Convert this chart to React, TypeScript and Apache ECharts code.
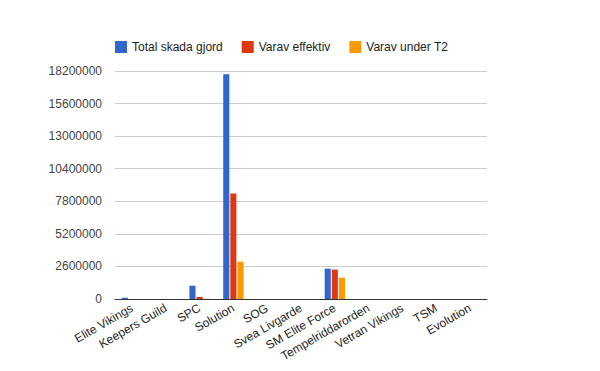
import React, { useEffect, useRef } from "react";
import * as echarts from "echarts";

const categories = [
  "Elite Vikings",
  "Keepers Guild",
  "SPC",
  "Solution",
  "SOG",
  "Svea Livgarde",
  "SM Elite Force",
  "Tempelriddarorden",
  "Vetran Vikings",
  "TSM",
  "Evolution",
];
const totalSkada = [100000, 0, 1060000, 17940000, 0, 0, 2420000, 0, 0, 0, 0];
const varavEffektiv = [0, 0, 170000, 8420000, 0, 0, 2350000, 0, 0, 0, 0];
const varavT2 = [0, 0, 20000, 2980000, 0, 0, 1700000, 0, 0, 0, 0];
const yTicks = { min: 0, max: 18200000, interval: 2600000 };

export default function App() {
  const ref = useRef<HTMLDivElement>(null);
  useEffect(() => {
    if (!ref.current) return;
    const chart = echarts.init(ref.current, null, { renderer: "svg" });
    const font = "'Liberation Sans', Arial, sans-serif";
    chart.setOption({
      animation: false,
      textStyle: { fontFamily: font },
      color: ["#3366cc", "#dc3912", "#ff9900"],
      legend: {
        left: 110,
        top: 36,
        itemWidth: 12,
        itemHeight: 12,
        itemGap: 19,
        icon: "rect",
        textStyle: { fontSize: 12, color: "#222", fontFamily: font },
        data: ["Total skada gjord", "Varav effektiv", "Varav under T2"],
      },
      grid: { left: 115, right: 113, top: 71, bottom: 72, containLabel: false },
      xAxis: {
        type: "category",
        data: categories,
        axisLine: { lineStyle: { color: "#333", width: 1 } },
        axisTick: { show: false },
        axisLabel: {
          rotate: 30,
          interval: 0,
          margin: 8,
          fontSize: 12,
          color: "#222",
          fontFamily: font,
        },
      },
      yAxis: {
        type: "value",
        min: yTicks.min,
        max: yTicks.max,
        interval: yTicks.interval,
        axisLine: { show: false },
        axisTick: { show: false },
        splitLine: { lineStyle: { color: "#cccccc", width: 1 } },
        axisLabel: {
          fontSize: 12,
          color: "#444",
          margin: 13,
          fontFamily: font,
          formatter: (v: number) => String(v),
        },
      },
      series: [
        { name: "Total skada gjord", type: "bar", data: totalSkada, barGap: "16%", barCategoryGap: "40%" },
        { name: "Varav effektiv", type: "bar", data: varavEffektiv },
        { name: "Varav under T2", type: "bar", data: varavT2 },
      ],
    });
    return () => chart.dispose();
  }, []);
  return <div ref={ref} style={{ width: 600, height: 371, position: "absolute", left: 0, top: 0 }} />;
}
